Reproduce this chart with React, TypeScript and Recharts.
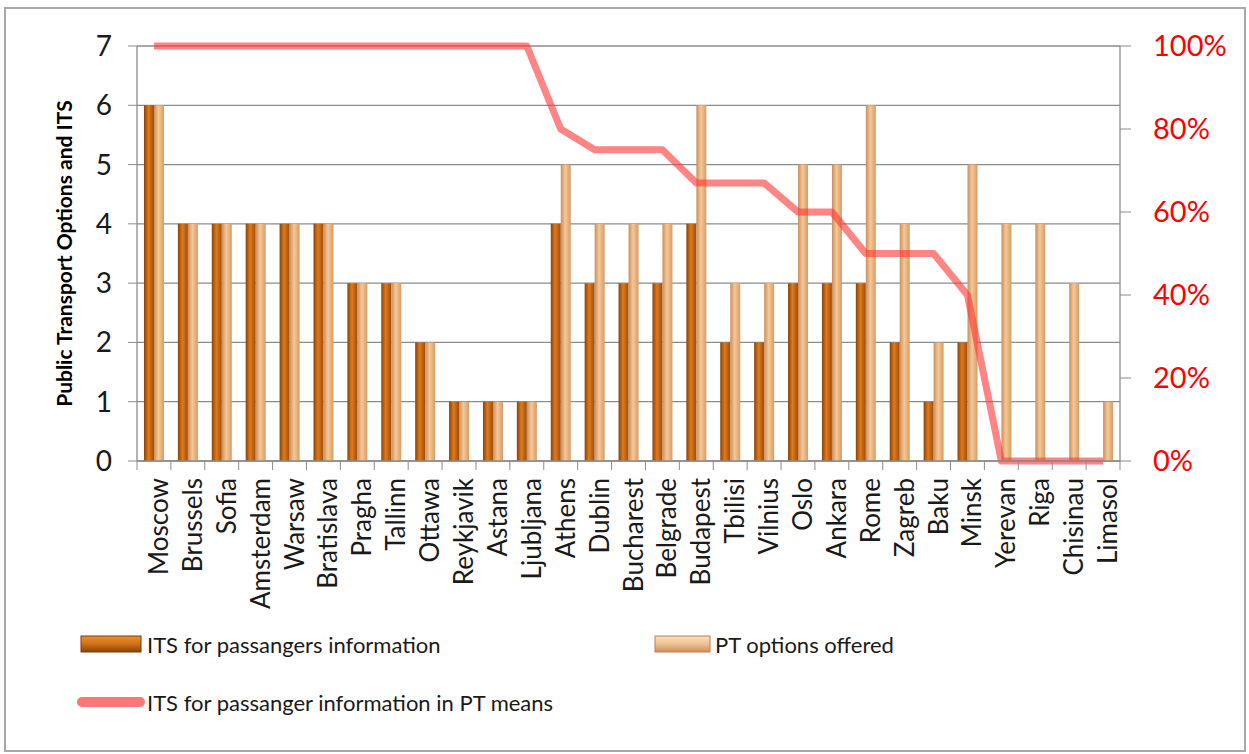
import {
  Bar,
  CartesianGrid,
  ComposedChart,
  Legend,
  Line,
  XAxis,
  YAxis,
} from 'recharts';

const cities = [
  'Moscow', 'Brussels', 'Sofia', 'Amsterdam', 'Warsaw', 'Bratislava', 'Pragha', 'Tallinn',
  'Ottawa', 'Reykjavik', 'Astana', 'Ljubljana', 'Athens', 'Dublin', 'Bucharest', 'Belgrade',
  'Budapest', 'Tbilisi', 'Vilnius', 'Oslo', 'Ankara', 'Rome', 'Zagreb', 'Baku', 'Minsk',
  'Yerevan', 'Riga', 'Chisinau', 'Limasol',
];
const itsValues = [6, 4, 4, 4, 4, 4, 3, 3, 2, 1, 1, 1, 4, 3, 3, 3, 4, 2, 2, 3, 3, 3, 2, 1, 2, 0, 0, 0, 0];
const ptValues = [6, 4, 4, 4, 4, 4, 3, 3, 2, 1, 1, 1, 5, 4, 4, 4, 6, 3, 3, 5, 5, 6, 4, 2, 5, 4, 4, 3, 1];
const shareValues = [
  1, 1, 1, 1, 1, 1, 1, 1, 1, 1, 1, 1, 0.8, 0.75, 0.75, 0.75, 0.67, 0.67, 0.67, 0.6, 0.6, 0.5,
  0.5, 0.5, 0.4, 0, 0, 0, 0,
];
const leftTicks = [0, 1, 2, 3, 4, 5, 6, 7];
const rightTicks = [0, 0.2, 0.4, 0.6, 0.8, 1];

const data = cities.map((city, i) => ({
  city,
  its: itsValues[i],
  pt: ptValues[i],
  share: shareValues[i],
}));

const W = 1249;
const H = 754;
const PLOT_LEFT = 137;
const PLOT_RIGHT = 1120;
const STEP = (PLOT_RIGHT - PLOT_LEFT) / cities.length;
const FONT = 'Lato, "Open Sans", sans-serif';
const GRID = '#8c8c8c';

function CityTick(props: any) {
  const { x, y, payload, index } = props;
  return (
    <g>
      <line x1={x - STEP / 2} x2={x - STEP / 2} y1={y - 9} y2={y} stroke={GRID} />
      {index === cities.length - 1 && (
        <line x1={x + STEP / 2} x2={x + STEP / 2} y1={y - 9} y2={y} stroke={GRID} />
      )}
      <text
        transform={`translate(${x + 4},${y + 8}) rotate(-90)`}
        textAnchor="end"
        dominantBaseline="central"
        fontFamily={FONT}
        fontSize={26}
        fill="#1a1a1a"
      >
        {payload.value}
      </text>
    </g>
  );
}

function ChartLegend() {
  const text = { fontFamily: FONT, fontSize: 22, fill: '#1a1a1a' };
  return (
    <svg width={W} height={110}>
      <rect x={81} y={16} width={60} height={16} fill="url(#legIts)" stroke="#7a3a08" strokeWidth={1} />
      <text x={147} y={24} dominantBaseline="central" {...text}>ITS for passangers information</text>
      <rect x={655} y={16} width={55} height={16} fill="url(#legPt)" stroke="#b88050" strokeWidth={1} />
      <text x={715} y={24} dominantBaseline="central" {...text}>PT options offered</text>
      <line x1={82} x2={140} y1={82} y2={82} stroke="#f87878" strokeWidth={10} strokeLinecap="round" />
      <text x={147} y={82} dominantBaseline="central" {...text}>ITS for passanger information in PT means</text>
    </svg>
  );
}

export default function App() {
  return (
    <div style={{ position: 'absolute', left: 0, top: 0, width: W, height: H, background: '#fff' }}>
      <div
        style={{
          position: 'absolute',
          left: 4,
          top: 7,
          width: 1242,
          height: 745,
          border: '2px solid #a8a8a8',
          boxSizing: 'border-box',
          pointerEvents: 'none',
        }}
      />
      <ComposedChart
        width={W}
        height={H}
        data={data}
        margin={{ top: 46, right: 0, bottom: 0, left: 0 }}
        barSize={10}
        barGap={0}
      >
        <defs>
          <linearGradient id="barIts" x1="0" y1="0" x2="1" y2="0">
            <stop offset="0%" stopColor="#8a4306" />
            <stop offset="45%" stopColor="#e07a1c" />
            <stop offset="100%" stopColor="#9c4c0a" />
          </linearGradient>
          <linearGradient id="barPt" x1="0" y1="0" x2="1" y2="0">
            <stop offset="0%" stopColor="#c98f5c" />
            <stop offset="45%" stopColor="#f7c796" />
            <stop offset="100%" stopColor="#d49c68" />
          </linearGradient>
          <linearGradient id="legIts" x1="0" y1="0" x2="0" y2="1">
            <stop offset="0%" stopColor="#f09030" />
            <stop offset="50%" stopColor="#d07018" />
            <stop offset="100%" stopColor="#8a4306" />
          </linearGradient>
          <linearGradient id="legPt" x1="0" y1="0" x2="0" y2="1">
            <stop offset="0%" stopColor="#fbe0c0" />
            <stop offset="50%" stopColor="#f0c090" />
            <stop offset="100%" stopColor="#c98f5c" />
          </linearGradient>
        </defs>
        <CartesianGrid yAxisId="left" vertical={false} stroke={GRID} strokeWidth={1.3} />
        <XAxis
          dataKey="city"
          interval={0}
          height={293}
          axisLine={{ stroke: GRID, strokeWidth: 1.3 }}
          tickLine={false}
          tickSize={9}
          tickMargin={0}
          tick={<CityTick />}
        />
        <YAxis
          yAxisId="left"
          width={PLOT_LEFT}
          domain={[0, 7]}
          ticks={leftTicks}
          interval={0}
          axisLine={{ stroke: GRID, strokeWidth: 1.3 }}
          tickLine={{ stroke: GRID }}
          tickSize={9}
          tickMargin={16}
          tick={{ fontFamily: FONT, fontSize: 28, fill: '#1a1a1a' }}
          label={{
            content: (p: any) => {
              const vb = p.viewBox;
              const cy = vb.y + vb.height / 2;
              return (
                <text
                  transform={`translate(63,${cy}) rotate(-90)`}
                  textAnchor="middle"
                  dominantBaseline="central"
                  fontFamily={FONT}
                  fontWeight="bold"
                  fontSize={21}
                  fill="#000"
                >
                  Public Transport Options and ITS
                </text>
              );
            },
          }}
        />
        <YAxis
          yAxisId="right"
          orientation="right"
          width={W - PLOT_RIGHT}
          domain={[0, 1]}
          ticks={rightTicks}
          interval={0}
          axisLine={{ stroke: GRID, strokeWidth: 1.3 }}
          tickLine={{ stroke: GRID }}
          tickSize={11}
          tickMargin={22}
          tickFormatter={(v: number) => `${Math.round(v * 100)}%`}
          tick={{ fontFamily: FONT, fontSize: 29, fill: '#ff0000' }}
        />
        <Legend
          layout="horizontal"
          verticalAlign="middle"
          wrapperStyle={{ top: 620, left: 0, width: W }}
          content={() => <ChartLegend />}
        />
        <Bar yAxisId="left" dataKey="its" name="ITS for passangers information" fill="url(#barIts)" isAnimationActive={false} />
        <Bar yAxisId="left" dataKey="pt" name="PT options offered" fill="url(#barPt)" isAnimationActive={false} />
        <Line
          yAxisId="right"
          type="linear"
          dataKey="share"
          name="ITS for passanger information in PT means"
          stroke="#ff3838"
          strokeOpacity={0.62}
          strokeWidth={7}
          strokeLinejoin="round"
          dot={false}
          activeDot={false}
          isAnimationActive={false}
        />
      </ComposedChart>
    </div>
  );
}
